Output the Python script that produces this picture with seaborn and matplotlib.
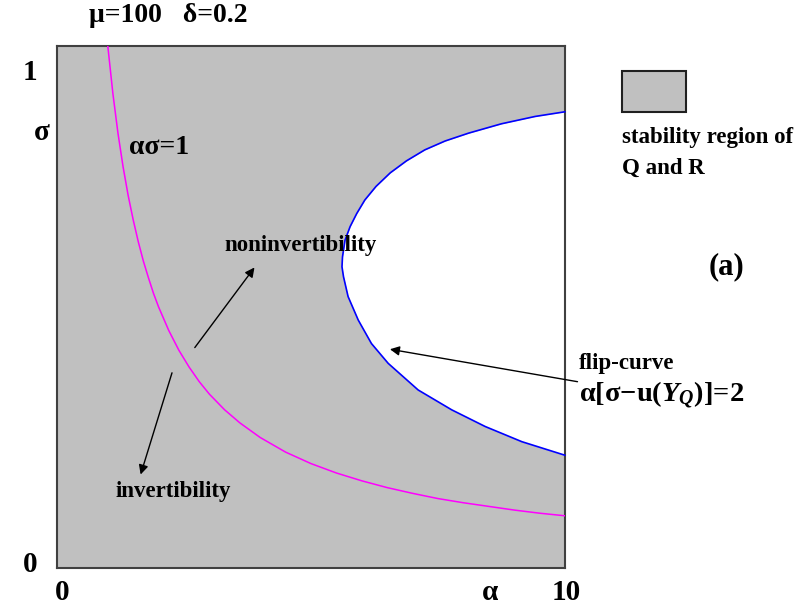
import matplotlib
matplotlib.use("Agg")
import matplotlib.pyplot as plt
import seaborn as sns
from matplotlib.patches import Rectangle

# curve alpha*sigma = 1
inv_alpha = [1.0, 1.1, 1.2, 1.3, 1.4, 1.5, 1.6, 1.7, 1.8, 1.9, 2.0, 2.2,
             2.4, 2.6, 2.8, 3.0, 3.3, 3.6, 4.0, 4.5, 5.0, 5.5, 6.0, 6.5,
             7.0, 7.5, 8.0, 8.5, 9.0, 9.5, 10.0]
inv_sigma = [1.0, 0.909, 0.833, 0.769, 0.714, 0.667, 0.625, 0.588, 0.556,
             0.526, 0.500, 0.455, 0.417, 0.385, 0.357, 0.333, 0.303, 0.278,
             0.250, 0.222, 0.200, 0.182, 0.167, 0.154, 0.143, 0.133, 0.125,
             0.118, 0.111, 0.105, 0.100]

# flip-curve (top to bottom)
flip_alpha = [10.0, 9.41, 8.75, 8.10, 7.64, 7.24, 6.88, 6.56, 6.28, 6.06,
              5.90, 5.77, 5.67, 5.62, 5.61, 5.64, 5.73, 5.93, 6.19, 6.52,
              7.11, 7.77, 8.43, 9.15, 10.0]
flip_sigma = [0.874, 0.865, 0.851, 0.833, 0.818, 0.801, 0.780, 0.757, 0.731,
              0.705, 0.679, 0.654, 0.628, 0.596, 0.577, 0.558, 0.520, 0.475,
              0.430, 0.392, 0.341, 0.303, 0.271, 0.242, 0.216]

W, H = 810, 612
GRAY = "#c0c0c0"

sns.set_style("white")
plt.rcParams["font.family"] = ["Liberation Serif", "DejaVu Serif"]
plt.rcParams["font.weight"] = "bold"
plt.rcParams["text.color"] = "black"
plt.rcParams["mathtext.fontset"] = "custom"
plt.rcParams["mathtext.it"] = "Liberation Serif:italic:bold"
plt.rcParams["mathtext.rm"] = "Liberation Serif:bold"

fig = plt.figure(figsize=(W / 100, H / 100), dpi=100)
ax = fig.add_axes([57 / W, 1 - 568 / H, 508 / W, 522 / H])
ax.set_facecolor(GRAY)
ax.set_xlim(0, 10)
ax.set_ylim(0, 1)
ax.set_xticks([])
ax.set_yticks([])
for sp in ax.spines.values():
    sp.set_color("#404040")
    sp.set_linewidth(1.5)

# white region inside the flip-curve
ax.fill_betweenx(flip_sigma, flip_alpha, 10, color="white", lw=0, zorder=1)

sns.lineplot(x=inv_alpha, y=inv_sigma, sort=False, estimator=None,
             color="#ff00ff", lw=1.1, ax=ax, zorder=3)
sns.lineplot(x=flip_alpha, y=flip_sigma, sort=False, estimator=None,
             color="#0000ff", lw=1.2, ax=ax, zorder=3, clip_on=False)

arrow = dict(arrowstyle="-|>", color="black", lw=1, mutation_scale=14)
ax.annotate("", xy=(3.92, 0.580), xytext=(2.68, 0.418), arrowprops=arrow)
ax.annotate("", xy=(1.63, 0.174), xytext=(2.28, 0.379), arrowprops=arrow)
ax.annotate("", xy=(6.50, 0.420), xytext=(10.3, 0.356), arrowprops=arrow,
            annotation_clip=False)


def ftext(x, y, s, size, **kw):
    fig.text(x / W, 1 - y / H, s, fontsize=size, fontweight="bold",
             color="black", **kw)


ftext(168, 16, "μ=100   δ=0.2", 20, ha="center", va="center")
ftext(30, 72, "1", 21, ha="center", va="center")
ftext(30, 565, "0", 21, ha="center", va="center")
ftext(42, 132, "σ", 21, ha="center", va="center")
ftext(62, 592, "0", 21, ha="center", va="center")
ftext(566, 592, "10", 21, ha="center", va="center")
ftext(490, 592, "α", 21, ha="center", va="center")
ftext(129, 148, "ασ=1", 20, ha="left", va="center")
ftext(224, 245, "noninvertibility", 16.5, ha="left", va="center")
ftext(116, 491, "invertibility", 16.5, ha="left", va="center")
ftext(579, 363, "flip-curve", 16.5, ha="left", va="center")
ftext(579, 395, r"α[σ−u($Y_Q$)]=2", 20.5, ha="left", va="center")
ftext(622, 138, "stability region of", 16.5, ha="left", va="center")
ftext(622, 168, "Q and R", 16.5, ha="left", va="center")
ftext(726, 267, "(a)", 22, ha="center", va="center")

fig.patches.append(Rectangle((622 / W, 1 - 112 / H), 64 / W, 41 / H,
                             transform=fig.transFigure, facecolor=GRAY,
                             edgecolor="#202020", lw=1.5))

plt.savefig("out.png", dpi=100)
plt.close()
